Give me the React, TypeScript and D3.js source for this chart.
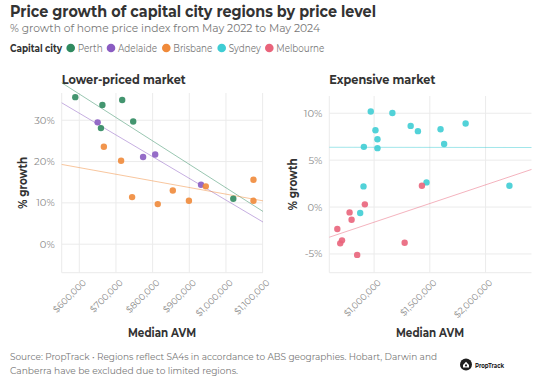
import React from "react";
import * as d3 from "d3";

// ---------- DATA ----------
const cities = ["Perth", "Adelaide", "Brisbane", "Sydney", "Melbourne"];
const cityColors = ["#2f8a5f", "#8a5cc2", "#f08a3a", "#3fcdd4", "#e9647b"];

// Lower-priced market
const perthAVM = [589000, 663000, 717000, 747000, 659000, 1020000];
const perthGrowth = [35.6, 33.7, 34.9, 29.7, 28.1, 11.0];
const adelaideAVM = [650000, 774000, 807000, 932000];
const adelaideGrowth = [29.5, 21.1, 21.7, 14.4];
const brisbaneAVM = [667000, 714000, 744000, 814000, 855000, 899000, 945000, 1075000, 1075000];
const brisbaneGrowth = [23.6, 20.2, 11.4, 9.7, 13.0, 10.5, 14.0, 15.6, 10.5];

// Expensive market
const sydneyAVM = [970000, 1164000, 1012000, 1030000, 908000, 1030000, 1328000, 1393000, 1596000, 1628000, 1821000, 1470000, 2214000, 905000, 875000];
const sydneyGrowth = [10.18, 10.03, 8.19, 7.23, 6.42, 6.28, 8.65, 8.09, 8.3, 6.73, 8.9, 2.63, 2.27, 2.2, -0.64];
const melbourneAVM = [670000, 712000, 696000, 780000, 798000, 917000, 848000, 1274000, 1429000];
const melbourneGrowth = [-2.34, -3.55, -3.87, -0.57, -1.35, 0.29, -5.1, -3.8, 2.27];

const lowerXTicks = [600000, 700000, 800000, 900000, 1000000, 1100000];
const lowerYTicks = [0, 10, 20, 30];
const upperXTicks = [1000000, 1500000, 2000000];
const upperYTicks = [-5, 0, 5, 10];

type Series = { city: string; avm: number[]; growth: number[] };
const lowerSeries: Series[] = [
  { city: "Perth", avm: perthAVM, growth: perthGrowth },
  { city: "Adelaide", avm: adelaideAVM, growth: adelaideGrowth },
  { city: "Brisbane", avm: brisbaneAVM, growth: brisbaneGrowth },
];
const upperSeries: Series[] = [
  { city: "Sydney", avm: sydneyAVM, growth: sydneyGrowth },
  { city: "Melbourne", avm: melbourneAVM, growth: melbourneGrowth },
];

const colorOf = d3.scaleOrdinal<string, string>().domain(cities).range(cityColors);

function fit(xs: number[], ys: number[]) {
  const mx = d3.mean(xs)!;
  const my = d3.mean(ys)!;
  let sxy = 0, sxx = 0;
  xs.forEach((x, i) => {
    sxy += (x - mx) * (ys[i] - my);
    sxx += (x - mx) * (x - mx);
  });
  const b = sxy / sxx;
  return (x: number) => my + b * (x - mx);
}

const FONT = "Montserrat, 'Open Sans', Lato, sans-serif";
const GRID = "#ebebeb";
const money = d3.format("$,");

type PanelProps = {
  title: string;
  titleWidth: number;
  series: Series[];
  xDomain: [number, number];
  xRange: [number, number];
  yDomain: [number, number];
  yRange: [number, number];
  xTicks: number[];
  yTicks: number[];
  yTitleX: number;
  xTitleX: number;
};

function Panel(p: PanelProps) {
  const x = d3.scaleLinear().domain(p.xDomain).range(p.xRange);
  const y = d3.scaleLinear().domain(p.yDomain).range(p.yRange);
  const [x0, x1] = p.xRange;
  const [yb, yt] = p.yRange;
  const line = d3.line<[number, number]>().x((d) => x(d[0])).y((d) => y(d[1]));
  return (
    <g>
      <text x={x0} y={84} fontFamily={FONT} fontWeight={700} fontSize={13} fill="#333" textLength={p.titleWidth} lengthAdjust="spacingAndGlyphs">
        {p.title}
      </text>
      {p.yTicks.map((t) => (
        <g key={"y" + t}>
          <line x1={x0} x2={x1} y1={y(t)} y2={y(t)} stroke={GRID} strokeWidth={1} />
          <text x={x0 - 7} y={y(t)} dy="0.35em" textAnchor="end" fontFamily={FONT} fontSize={10} fill="#8a8a8a">
            {t + "%"}
          </text>
        </g>
      ))}
      {p.xTicks.map((t) => (
        <g key={"x" + t}>
          <line x1={x(t)} x2={x(t)} y1={yb} y2={yt} stroke={GRID} strokeWidth={1} />
          <text
            transform={`translate(${x(t) + 3},${yb + 6}) rotate(-45)`}
            textAnchor="end"
            dy="0.7em"
            fontFamily={FONT}
            fontSize={9}
            fill="#8a8a8a"
          >
            {money(t)}
          </text>
        </g>
      ))}
      <line x1={x0} x2={x0} y1={yb} y2={yt} stroke={GRID} />
      <line x1={x0} x2={x1} y1={yb} y2={yb} stroke={GRID} />
      {p.series.map((s) => {
        const f = fit(s.avm, s.growth);
        const pts: [number, number][] = [
          [p.xDomain[0], f(p.xDomain[0])],
          [p.xDomain[1], f(p.xDomain[1])],
        ];
        return (
          <path key={"l" + s.city} d={line(pts)!} fill="none" stroke={colorOf(s.city)} strokeOpacity={0.55} strokeWidth={0.9} />
        );
      })}
      {p.series.map((s) =>
        s.avm.map((v, i) => (
          <circle key={s.city + i} cx={x(v)} cy={y(s.growth[i])} r={3.2} fill={colorOf(s.city)} fillOpacity={0.9} />
        ))
      )}
      <text
        transform={`translate(${p.yTitleX},${(yb + yt) / 2}) rotate(-90)`}
        textAnchor="middle"
        fontFamily={FONT}
        fontWeight={700}
        fontSize={12}
        fill="#333"
        textLength={52}
        lengthAdjust="spacingAndGlyphs"
      >
        % growth
      </text>
      <text x={p.xTitleX} y={337} textAnchor="middle" fontFamily={FONT} fontWeight={700} fontSize={12} fill="#333" textLength={68} lengthAdjust="spacingAndGlyphs">
        Median AVM
      </text>
    </g>
  );
}

const legendX = [70.7, 111, 166.3, 221.7, 269.3];
const legendW = [25, 39, 39, 32, 48];

export default function App() {
  return (
    <svg width={554} height={383} style={{ position: "absolute", left: 0, top: 0, background: "#fff" }}>
      <text x={10} y={17} fontFamily={FONT} fontWeight={700} fontSize={16.5} fill="#333" textLength={366} lengthAdjust="spacingAndGlyphs">
        Price growth of capital city regions by price level
      </text>
      <text x={10} y={32} fontFamily={FONT} fontSize={11.5} fill="#777" textLength={310} lengthAdjust="spacingAndGlyphs">
        % growth of home price index from May 2022 to May 2024
      </text>
      <text x={10} y={51.5} fontFamily={FONT} fontWeight={700} fontSize={10.5} fill="#333" textLength={52} lengthAdjust="spacingAndGlyphs">
        Capital city
      </text>
      {cities.map((c, i) => (
        <g key={c}>
          <circle cx={legendX[i]} cy={48} r={4.3} fill={colorOf(c)} />
          <text x={legendX[i] + 7} y={51.5} fontFamily={FONT} fontSize={10.5} fill="#777" textLength={legendW[i]} lengthAdjust="spacingAndGlyphs">
            {c}
          </text>
        </g>
      ))}
      <Panel
        title="Lower-priced market"
        titleWidth={124}
        series={lowerSeries}
        xDomain={[552000, 1101000]}
        xRange={[61.7, 263]}
        yDomain={[-6.9, 36.6]}
        yRange={[272.7, 93]}
        xTicks={lowerXTicks}
        yTicks={lowerYTicks}
        yTitleX={27}
        xTitleX={162}
      />
      <Panel
        title="Expensive market"
        titleWidth={106}
        series={upperSeries}
        xDomain={[598000, 2412000]}
        xRange={[329.3, 531.5]}
        yDomain={[-7.0, 11.84]}
        yRange={[272.7, 96]}
        xTicks={upperXTicks}
        yTicks={upperYTicks}
        yTitleX={297}
        xTitleX={430}
      />
      <text x={10} y={359.5} fontFamily={FONT} fontSize={9.6} fill="#777" textLength={427} lengthAdjust="spacingAndGlyphs">
        Source: PropTrack • Regions reflect SA4s in accordance to ABS geographies. Hobart, Darwin and
      </text>
      <text x={10} y={374} fontFamily={FONT} fontSize={9.6} fill="#777" textLength={228} lengthAdjust="spacingAndGlyphs">
        Canberra have be excluded due to limited regions.
      </text>
      <g transform="translate(466,364.5)">
        <circle r={6} fill="#1e1e1e" />
        <path d="M-3,0.5 L0,-2.8 L3,0.5 L3,3 L-3,3 Z" fill="#fff" />
        <circle r={1.1} cy={0.9} fill="#1e1e1e" />
      </g>
      <text x={475} y={367.5} fontFamily={FONT} fontWeight={700} fontSize={7.5} fill="#222" textLength={29} lengthAdjust="spacingAndGlyphs">
        PropTrack
      </text>
    </svg>
  );
}
